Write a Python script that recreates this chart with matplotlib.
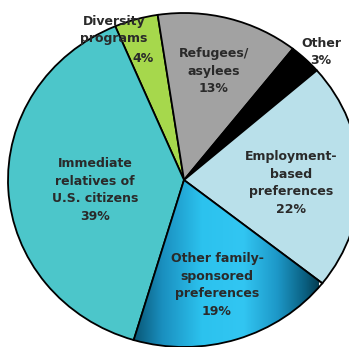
import numpy as np
import matplotlib
matplotlib.use("Agg")
import matplotlib.pyplot as plt
from matplotlib.colors import LinearSegmentedColormap

# slices in clockwise order, starting at the diversity/immediate boundary
labels = ["Diversity\nprograms", "Refugees/\nasylees", "Other",
          "Employment-\nbased\npreferences", "Other family-\nsponsored\npreferences",
          "Immediate\nrelatives of\nU.S. citizens"]
shares = [4, 13, 3, 22, 19, 39]
colors = ["#a6d84c", "#a2a2a2", "#000000", "#b9e0ea", "#2cbfee", "#4cc6ca"]

# label anchors in pixel coords of the picture
label_px = [(114, 40), (214, 71), (321, 52), (291, 183), (217, 285), (95, 190)]

CX, CY, RX, RY = 184, 180, 176, 167  # pie centre and radii in pixels

def to_data(px, py):
    return (px - CX) / RX, (CY - py) / RY

fig = plt.figure(figsize=(3.49, 3.47), dpi=100)
ax = fig.add_axes([0, 0, 1, 1])

wedges, _ = ax.pie(shares, colors=colors, startangle=113, counterclock=False,
                   wedgeprops=dict(edgecolor="black", linewidth=1.3))
ax.set_aspect("auto")
ax.set_xlim(-CX / RX, (349 - CX) / RX)
ax.set_ylim((CY - 347) / RY, CY / RY)
ax.axis("off")

# gradient fill for the "other family" slice
grad = LinearSegmentedColormap.from_list("g", [
    (0.0, "#07506c"), (0.17, "#1a8fbf"), (0.38, "#2cc2ee"),
    (0.6, "#32c6f2"), (0.78, "#1d98c8"), (0.93, "#0a5f80"), (1.0, "#063e52")])
x0, _ = to_data(130, 0)
x1, _ = to_data(318, 0)
_, ytop = to_data(0, 180)
_, ybot = to_data(0, 347)
img = ax.imshow(np.linspace(0, 1, 256)[None, :], cmap=grad, aspect="auto",
                extent=[x0, x1, ybot, ytop], zorder=1.5)
img.set_clip_path(wedges[4])
wedges[4].set_zorder(1.6)
wedges[4].set_facecolor("none")
ax.set_xlim(-CX / RX, (349 - CX) / RX)
ax.set_ylim((CY - 347) / RY, CY / RY)
ax.set_aspect("auto")

txt = dict(ha="center", va="center", fontsize=9, fontweight="bold",
           color="#2a2a2a", linespacing=1.45, zorder=3)
for i, (lab, share) in enumerate(zip(labels, shares)):
    px, py = label_px[i]
    if lab == "Diversity\nprograms":
        ax.text(*to_data(114, 30), lab, **txt)
        ax.text(*to_data(143, 59), f"{share}%", **txt)
        continue
    ax.text(*to_data(px, py), f"{lab}\n{share}%", **txt)

fig.savefig("out.png", dpi=100)
